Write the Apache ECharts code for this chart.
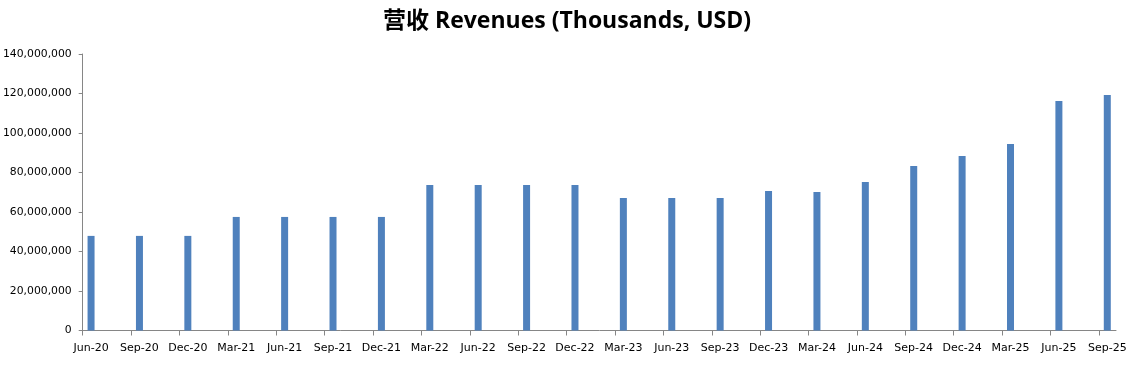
<!DOCTYPE html>
<html>
<head>
<meta charset="utf-8">
<script src="https://cdn.jsdelivr.net/npm/echarts@6/dist/echarts.min.js"></script>
<style>html,body{margin:0;padding:0;background:#fff}#c{width:1145px;height:367px}</style>
</head>
<body>
<div id="c"></div>
<script>
const titleText = '营收 Revenues (Thousands, USD)';
const categories = ['Jun-20','Sep-20','Dec-20','Mar-21','Jun-21','Sep-21','Dec-21','Mar-22','Jun-22','Sep-22','Dec-22','Mar-23','Jun-23','Sep-23','Dec-23','Mar-24','Jun-24','Sep-24','Dec-24','Mar-25','Jun-25','Sep-25'];
const revenues = [47900000,47900000,47900000,57500000,57500000,57500000,57500000,73700000,73700000,73700000,73700000,67100000,67100000,67100000,70600000,70100000,75200000,83300000,88400000,94400000,116200000,119200000];
const yTicks = [0,20000000,40000000,60000000,80000000,100000000,120000000,140000000];

const OFF = 0.173;
const chart = echarts.init(document.getElementById('c'));
chart.setOption({
  animation: false,
  title: {
    text: titleText, left: 378, top: 5,
    textStyle: {fontFamily: '"Open Sans", "Noto Sans CJK SC", sans-serif', fontWeight: 'bold', fontSize: 23, color: '#000'}
  },
  grid: {left: 81, right: 29, top: 54, bottom: 36.5, containLabel: false},
  xAxis: {
    type: 'value', min: -OFF, max: categories.length - 1 + 0.18,
    axisLine: {show: true, onZero: false, lineStyle: {color: '#868686', width: 1}},
    axisTick: {show: true, length: 5, lineStyle: {color: '#868686'}, customValues: categories.map((c, i) => i - OFF)},
    axisLabel: {customValues: categories.map((c, i) => i), formatter: v => categories[Math.round(v)] || '',
      fontFamily: 'DejaVu Sans', fontSize: 11, color: '#000', margin: 12},
    splitLine: {show: false}
  },
  yAxis: {
    type: 'value', min: yTicks[0], max: yTicks[yTicks.length - 1], interval: yTicks[1] - yTicks[0],
    axisLine: {show: true, onZero: false, lineStyle: {color: '#868686', width: 1}},
    axisTick: {show: true, length: 4, lineStyle: {color: '#868686'}},
    axisLabel: {formatter: v => v.toLocaleString('en-US'), fontFamily: 'DejaVu Sans', fontSize: 10.8, color: '#000', margin: 11},
    splitLine: {show: false}
  },
  series: [{
    type: 'bar', barWidth: 7,
    itemStyle: {color: '#4F81BD'},
    data: revenues.map((v, i) => [i, v])
  }]
});
</script>
</body>
</html>
